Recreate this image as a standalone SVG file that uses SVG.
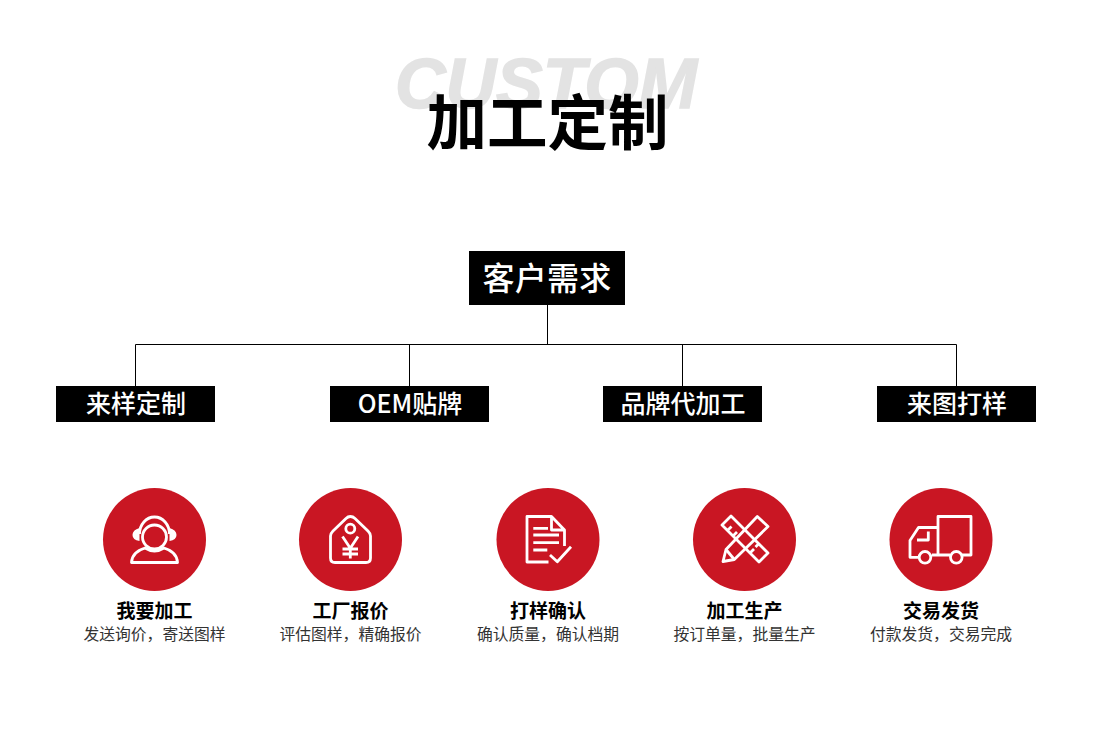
<svg xmlns="http://www.w3.org/2000/svg" width="1097" height="744" viewBox="0 0 1097 744">
<style>
text{font-family:"Noto Sans CJK SC","Noto Sans",sans-serif;text-anchor:middle}
.box{fill:#000}
.b1{fill:#fff;font-size:32px;font-weight:500;letter-spacing:.2px}
.b2{fill:#fff;font-size:25px;font-weight:500}
.t{fill:#000;font-size:19px;font-weight:700}
.s{fill:#333;font-size:15.8px;font-weight:400}
.c{fill:#c91623}
.i{fill:none;stroke:#fff;stroke-width:2.8;stroke-linejoin:round}
.l{fill:none;stroke:#000;stroke-width:1}
</style>
<rect width="1097" height="744" fill="#fff"/>
<g id="title">
<text x="546" y="108" style="font-family:'Liberation Sans',sans-serif;font-size:70px;font-weight:700;font-style:italic;fill:#e3e3e3;stroke:#e3e3e3;stroke-width:1.5">CUSTOM</text>
<text x="547.500" y="145" style="font-size:60.500px;font-weight:700;fill:#000">加工定制</text>
</g>
<g id="connectors">
<path class="l" d="M547.500 305V344.500M135.500 386V344.500H956.500V386M409.500 344.500V386M682.500 344.500V386"/>
</g>
<g id="root"><rect class="box" x="469" y="251" width="156" height="54"/><text class="b1" x="547" y="290">客户需求</text></g>
<g id="n1"><rect class="box" x="56" y="386" width="159" height="36"/><text class="b2" x="136" y="413">来样定制</text></g>
<g id="n2"><rect class="box" x="330" y="386" width="159" height="36"/><text class="b2" x="410" y="413">OEM贴牌</text></g>
<g id="n3"><rect class="box" x="603" y="386" width="159" height="36"/><text class="b2" x="683" y="413">品牌代加工</text></g>
<g id="n4"><rect class="box" x="877" y="386" width="159" height="36"/><text class="b2" x="957" y="413">来图打样</text></g>
<g id="s1"><circle class="c" cx="154.500" cy="539.500" r="51.500"/>
<circle class="i" cx="154.500" cy="537" r="12"/><path class="i" d="M139.500 534A15 17 0 0 1 169.500 534"/><path d="M139.500 528Q132.500 530 132.500 535Q132.500 540 139.500 541ZM169.500 528Q176.500 530 176.500 535Q176.500 540 169.500 541Z" fill="#fff"/><path class="i" d="M131.500 562.500Q132 552 145 548Q154.500 554 164 548Q177 552 177.500 562.500Z"/>
<text class="t" x="154.500" y="618">我要加工</text><text class="s" x="154.500" y="640">发送询价，寄送图样</text></g>
<g id="s2"><circle class="c" cx="350.500" cy="539.500" r="51.500"/>
<path class="i" d="M350.300 516.500Q348 516.500 346 518.500L333 531Q330.500 533.500 330.500 536V558Q330.500 562.500 335 562.500H366Q370.500 562.500 370.500 558V536Q370.500 533.500 368 531L355 518.500Q353 516.500 350.300 516.500Z"/><circle class="i" cx="350.300" cy="528.700" r="4.500"/><path class="i" d="M342.500 536.500L350.300 548.300L358 536.500M350.300 548.300V558.500M342.500 549H358M342.500 554H358"/>
<text class="t" x="350.500" y="618">工厂报价</text><text class="s" x="350.500" y="640">评估图样，精确报价</text></g>
<g id="s3"><circle class="c" cx="548" cy="539.500" r="51.500"/>
<path class="i" d="M564.500 546V530L551.500 516.500H527V562H548.500M551.500 516.500V530H564.500"/><path class="i" d="M533.300 528.300H548M533.300 535H559M533.300 542.700H559M533.300 550H547.300"/><path class="i" d="M550 555L557.300 561.700L571 546.700" stroke-linejoin="miter"/>
<text class="t" x="548" y="618">打样确认</text><text class="s" x="548" y="640">确认质量，确认档期</text></g>
<g id="s4"><circle class="c" cx="744.500" cy="539.500" r="51.500"/>
<path class="i" d="M722 525L731 516L768 553L759 562ZM727.500 530.500L731.500 526.500M733 536L737 532M750 553L754 549M755.500 547L759.500 543"/><path class="i" d="M757.300 516.500L768 526.500L734.300 559.500L723 561.500L726 549.500Z" fill="#c91623"/><path class="i" d="M726 549.500L734.300 559.500"/>
<text class="t" x="744.500" y="618">加工生产</text><text class="s" x="744.500" y="640">按订单量，批量生产</text></g>
<g id="s5"><circle class="c" cx="941" cy="539.500" r="51.500"/>
<path class="i" d="M938 555V516.500H971V555H962M950 555H932M918 557.300H910V540.500L918.500 527.500H938M917 540H928.300V531.500"/><circle class="i" cx="925" cy="557.300" r="5.800"/><circle class="i" cx="956.300" cy="557.300" r="5.800"/>
<text class="t" x="941" y="618">交易发货</text><text class="s" x="941" y="640">付款发货，交易完成</text></g>
</svg>
